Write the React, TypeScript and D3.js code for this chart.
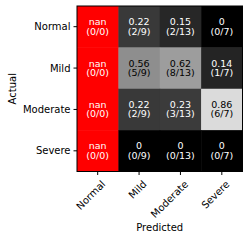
import React from "react";
import * as d3 from "d3";

const actualLabels = ["Normal", "Mild", "Moderate", "Severe"];
const predictedLabels = ["Normal", "Mild", "Moderate", "Severe"];
const counts = [
  [0, 2, 2, 0],
  [0, 5, 8, 1],
  [0, 2, 3, 6],
  [0, 0, 0, 0],
];
const columnTotals = [0, 9, 13, 7];

const W = 249;
const H = 242;
const left = 77;
const top = 6;
const size = 165.5;
const FONT = "DejaVu Sans, sans-serif";

export default function App() {
  const x = d3.scaleBand<string>().domain(predictedLabels).range([left, left + size]);
  const y = d3.scaleBand<string>().domain(actualLabels).range([top, top + size]);
  const color = d3.scaleLinear<string>().domain([0, 1]).range(["#000000", "#ffffff"]);
  const bw = x.bandwidth();
  const bh = y.bandwidth();

  const cells: any[] = [];
  actualLabels.forEach((a, i) => {
    predictedLabels.forEach((p, j) => {
      const n = counts[i][j];
      const d = columnTotals[j];
      const v = d === 0 ? NaN : n / d;
      cells.push({ a, p, n, d, v });
    });
  });

  const fmt = (v: number) => (isNaN(v) ? "nan" : String(+v.toFixed(2)));

  return (
    <svg
      width={W}
      height={H}
      style={{ position: "absolute", left: 0, top: 0 }}
      fontFamily={FONT}
    >
      <rect width={W} height={H} fill="#fff" />
      {cells.map((c, k) => {
        const cx = (x(c.p) as number) + bw / 2;
        const cy = (y(c.a) as number) + bh / 2;
        const fill = isNaN(c.v) ? "#ff0000" : color(c.v);
        const tc = isNaN(c.v) || c.v < 0.5 ? "#ffffff" : "#000000";
        return (
          <g key={k}>
            <rect x={x(c.p)} y={y(c.a)} width={bw + 0.5} height={bh + 0.5} fill={fill} />
            <text x={cx} y={cy - 1.5} textAnchor="middle" fontSize={9.5} fill={tc}>
              {fmt(c.v)}
            </text>
            <text x={cx} y={cy + 8} textAnchor="middle" fontSize={9.5} fill={tc}>
              {`(${c.n}/${c.d})`}
            </text>
          </g>
        );
      })}
      <rect x={left} y={top} width={size} height={size} fill="none" stroke="#000" strokeWidth={1} />
      {actualLabels.map((a) => {
        const cy = (y(a) as number) + bh / 2;
        return (
          <g key={"y" + a}>
            <line x1={left - 3.5} x2={left} y1={cy} y2={cy} stroke="#000" strokeWidth={1} />
            <text x={left - 6.5} y={cy} dy="0.35em" textAnchor="end" fontSize={10} fill="#000">
              {a}
            </text>
          </g>
        );
      })}
      {predictedLabels.map((p) => {
        const cx = (x(p) as number) + bw / 2;
        const by = top + size;
        return (
          <g key={"x" + p}>
            <line x1={cx} x2={cx} y1={by} y2={by + 3.5} stroke="#000" strokeWidth={1} />
            <text
              transform={`translate(${cx + 3},${by + 8}) rotate(-45)`}
              textAnchor="end"
              dy="0.75em"
              fontSize={10}
              fill="#000"
            >
              {p}
            </text>
          </g>
        );
      })}
      <text x={left + size / 2} y={231} textAnchor="middle" fontSize={10} fill="#000">
        Predicted
      </text>
      <text
        transform={`translate(16,${top + size / 2}) rotate(-90)`}
        textAnchor="middle"
        fontSize={10}
        fill="#000"
      >
        Actual
      </text>
    </svg>
  );
}
